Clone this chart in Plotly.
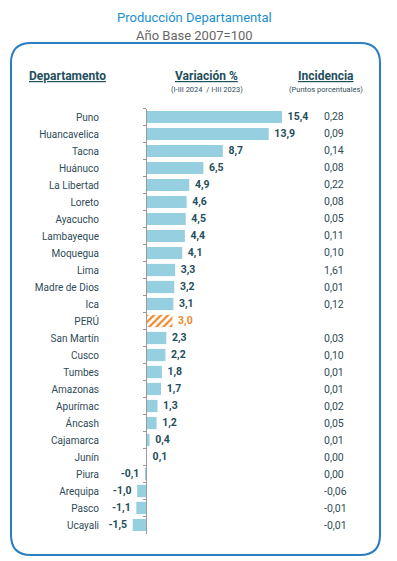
import plotly.graph_objects as go

departamentos = ["Puno", "Huancavelica", "Tacna", "Huánuco", "La Libertad", "Loreto",
                 "Ayacucho", "Lambayeque", "Moquegua", "Lima", "Madre de Dios", "Ica",
                 "PERÚ", "San Martín", "Cusco", "Tumbes", "Amazonas", "Apurímac",
                 "Áncash", "Cajamarca", "Junín", "Piura", "Arequipa", "Pasco", "Ucayali"]
variacion = [15.4, 13.9, 8.7, 6.5, 4.9, 4.6, 4.5, 4.4, 4.1, 3.3, 3.2, 3.1, 3.0,
             2.3, 2.2, 1.8, 1.7, 1.3, 1.2, 0.4, 0.1, -0.1, -1.0, -1.1, -1.5]
incidencia = ["0,28", "0,09", "0,14", "0,08", "0,22", "0,08", "0,05", "0,11", "0,10",
              "1,61", "0,01", "0,12", "", "0,03", "0,10", "0,01", "0,01", "0,02",
              "0,05", "0,01", "0,00", "0,00", "-0,06", "-0,01", "-0,01"]

W, H = 397, 561
FONT = "Roboto, Liberation Sans, sans-serif"
BAR = "#96cfe0"
ORANGE = "#ee8a2e"
DARK = "#1f4e5c"
LABEL = "#2f4b57"

def px(x):
    return x / W

def py(y):
    return 1 - y / H

is_peru = [d == "PERÚ" for d in departamentos]
colors = [ORANGE if p else BAR for p in is_peru]
shapes_pat = ["/" if p else "" for p in is_peru]
txt_colors = [ORANGE if p else DARK for p in is_peru]
texts = ["\u00a0" + f"{v:.1f}".replace(".", ",") + "\u00a0" for v in variacion]

fig = go.Figure()
fig.add_trace(go.Bar(
    y=departamentos, x=variacion, orientation="h",
    width=0.72,
    marker=dict(color=colors, line=dict(width=0),
                pattern=dict(shape=shapes_pat, fillmode="replace", bgcolor="white",
                             size=5, solidity=0.45)),
    text=texts, textposition="outside", cliponaxis=False,
    textfont=dict(family=FONT, size=12, color=txt_colors, weight="bold"),
    hoverinfo="skip",
))

scale = (282 - 146) / 15.4
r0 = -146 / scale
r1 = (W - 146) / scale

fig.update_layout(
    width=W, height=H,
    margin=dict(l=0, r=0, t=0, b=0),
    paper_bgcolor="white", plot_bgcolor="rgba(0,0,0,0)",
    showlegend=False,
    font=dict(family=FONT, size=10, color=LABEL),
    xaxis=dict(range=[r0, r1], domain=[0, 1], showgrid=False, zeroline=False,
               showticklabels=False, ticks="", fixedrange=True),
    yaxis=dict(type="category", categoryorder="array", categoryarray=departamentos,
               range=[len(departamentos) - 0.5, -0.5],
               domain=[py(533.5), py(108.5)],
               anchor="free", position=px(146),
               showline=True, linecolor="#9a9a9a", linewidth=1,
               ticks="outside", ticklen=3, tickcolor="#9a9a9a", tickwidth=1,
               tickson="boundaries", showgrid=False, zeroline=False,
               ticklabelstandoff=45, fixedrange=True,
               tickfont=dict(family=FONT, size=10, color=LABEL)),
)

for d, inc in zip(departamentos, incidencia):
    if inc:
        fig.add_annotation(x=px(322), xref="paper", y=d, yref="y", text=inc,
                           xanchor="left", showarrow=False,
                           font=dict(family=FONT, size=10.5, color=LABEL))

hdr = dict(family=FONT, size=12, color=DARK, weight="bold")
sub = dict(family=FONT, size=7.5, color=LABEL)
for x, y, t, f in [(67, 76, "<u>Departamento</u>", hdr),
                   (206, 76, "<u>Variación %</u>", hdr),
                   (326, 76, "<u>Incidencia</u>", hdr),
                   (207, 89, "(I-III 2024 &nbsp;/ I-III 2023)", sub),
                   (326, 89, "(Puntos porcentuales)", sub)]:
    fig.add_annotation(x=px(x), y=py(y), xref="paper", yref="paper", text=t,
                       showarrow=False, xanchor="center", yanchor="middle", font=f)

fig.add_annotation(x=px(194), y=py(8), xref="paper", yref="paper",
                   text="Producción Departamental", showarrow=False,
                   font=dict(family=FONT, size=13, color="#1b8fce"))
fig.add_annotation(x=px(194), y=py(26), xref="paper", yref="paper",
                   text="Año Base 2007=100", showarrow=False,
                   font=dict(family=FONT, size=13, color="#666666"))

x0, x1, y0, y1, r = 11, 380, 43, 555, 20
path = (f"M {px(x0 + r)},{py(y0)} L {px(x1 - r)},{py(y0)} "
        f"Q {px(x1)},{py(y0)} {px(x1)},{py(y0 + r)} "
        f"L {px(x1)},{py(y1 - r)} Q {px(x1)},{py(y1)} {px(x1 - r)},{py(y1)} "
        f"L {px(x0 + r)},{py(y1)} Q {px(x0)},{py(y1)} {px(x0)},{py(y1 - r)} "
        f"L {px(x0)},{py(y0 + r)} Q {px(x0)},{py(y0)} {px(x0 + r)},{py(y0)} Z")
fig.add_shape(type="path", path=path, xref="paper", yref="paper",
              line=dict(color="#2a7dbf", width=2), layer="below")

fig.write_html("out.html", config={"displayModeBar": False},
               post_script="document.body.style.margin='0px';")
